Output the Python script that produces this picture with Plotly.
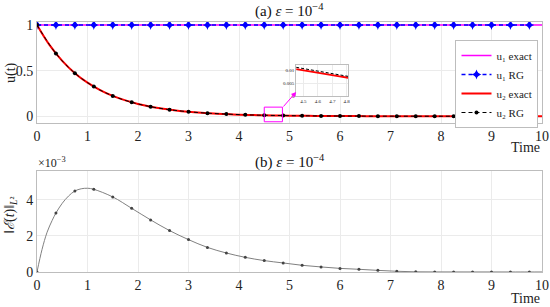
import plotly.graph_objects as go

# ---------------- data ----------------
t_marks = [0, 0.375, 0.75, 1.125, 1.5, 1.875, 2.25, 2.625, 3.0, 3.375, 3.75, 4.125, 4.5,
           4.875, 5.25, 5.625, 6.0, 6.375, 6.75, 7.125, 7.5, 7.875, 8.25, 8.625, 9.0, 9.375, 9.75]
u1_exact_t = [0, 10]
u1_exact = [1, 1]
u1_rg = [1] * 27
t_fine = [0, 0.25, 0.5, 0.75, 1.0, 1.25, 1.5, 1.75, 2.0, 2.25, 2.5, 2.75, 3.0, 3.25, 3.5, 3.75,
          4.0, 4.25, 4.5, 4.75, 5.0, 5.25, 5.5, 5.75, 6.0, 6.25, 6.5, 6.75, 7.0, 7.25, 7.5, 7.75,
          8.0, 8.25, 8.5, 8.75, 9.0, 9.25, 9.5, 9.75, 10.0]
u2_exact = [1, 0.779, 0.607, 0.472, 0.368, 0.287, 0.223, 0.174, 0.135, 0.105, 0.082, 0.064,
            0.050, 0.039, 0.030, 0.024, 0.018, 0.014, 0.011, 0.0087, 0.0067, 0.0052, 0.0041,
            0.0032, 0.0025, 0.0019, 0.0015, 0.0012, 0.0009, 0.0007, 0.00055, 0.0004, 0.0003,
            0.0003, 0.0002, 0.0002, 0.0001, 0.0001, 0.0001, 0.0001, 0.00005]
u2_rg = [1, 0.687, 0.472, 0.325, 0.223, 0.153, 0.105, 0.072, 0.050, 0.034, 0.024, 0.016, 0.011,
         0.0076, 0.0052, 0.0036, 0.0025, 0.0017, 0.0012, 0.0008, 0.00055, 0.0004, 0.0003,
         0.0002, 0.0001, 0.0001, 0.0001]

# inset (zoom of u2 near t = 4.5 .. 4.8)
inset_t = [4.45, 4.55, 4.65, 4.75, 4.81]
inset_u2_exact = [0.0104, 0.0094, 0.0085, 0.0076, 0.0071]
inset_u2_rg = [0.0111, 0.0101, 0.0091, 0.0081, 0.0076]

# error norm (bottom panel)
err_line_t = [0, 0.1, 0.2, 0.3, 0.375, 0.5, 0.625, 0.75, 0.875, 1.0, 1.125, 1.5, 1.875, 2.25,
              2.625, 3.0, 3.375, 3.75, 4.125, 4.5, 4.875, 5.25, 5.625, 6.0, 6.375, 6.75, 7.125,
              7.5, 7.875, 8.25, 8.625, 9.0, 9.375, 9.75, 10.0]
err_line = [0, 1.25e-3, 2.2e-3, 2.85e-3, 3.26e-3, 3.8e-3, 4.2e-3, 4.48e-3, 4.6e-3, 4.63e-3,
            4.57e-3, 4.15e-3, 3.52e-3, 2.88e-3, 2.29e-3, 1.79e-3, 1.36e-3, 1.05e-3, 0.81e-3,
            0.63e-3, 0.50e-3, 0.37e-3, 0.28e-3, 0.20e-3, 0.15e-3, 0.09e-3, 0.04e-3, 0.01e-3,
            0.005e-3, 0.004e-3, 0.003e-3, 0.003e-3, 0.002e-3, 0.002e-3, 0.002e-3]
err_marks = [0, 3.26e-3, 4.48e-3, 4.57e-3, 4.15e-3, 3.52e-3, 2.88e-3, 2.29e-3, 1.79e-3, 1.36e-3,
             1.05e-3, 0.81e-3, 0.63e-3, 0.50e-3, 0.37e-3, 0.28e-3, 0.20e-3, 0.15e-3, 0.09e-3,
             0.04e-3, 0.01e-3, 0.005e-3, 0.004e-3, 0.003e-3, 0.003e-3, 0.002e-3, 0.002e-3]

x_ticks = [0, 1, 2, 3, 4, 5, 6, 7, 8, 9, 10]
top_y_ticks = [0, 0.5, 1]
top_y_text = ["0", "0.5", "1"]
bot_y_ticks = [0, 0.002, 0.004]
bot_y_text = ["0", "2", "4"]
inset_x_ticks = [4.5, 4.6, 4.7, 4.8]
inset_y_ticks = [0, 0.005, 0.01]
inset_y_text = ["0", "0.005", "0.01"]

FONT = "Liberation Serif"
W, H = 550, 307

fig = go.Figure()

# top panel
fig.add_trace(go.Scatter(x=u1_exact_t, y=u1_exact, mode="lines", name="u₁ exact",
                         line=dict(color="#FF00FF", width=1.5), xaxis="x", yaxis="y"))
fig.add_trace(go.Scatter(x=t_marks, y=u1_rg, mode="lines+markers", name="u₁ RG",
                         line=dict(color="#0000FF", width=1.3, dash="4px,3px"),
                         marker=dict(symbol="star-diamond", size=7, color="#0000FF"),
                         xaxis="x", yaxis="y"))
fig.add_trace(go.Scatter(x=t_fine, y=u2_exact, mode="lines", name="u₂ exact",
                         line=dict(color="#FF0000", width=2, shape="spline"), xaxis="x", yaxis="y"))
fig.add_trace(go.Scatter(x=t_marks, y=u2_rg, mode="lines+markers", name="u₂ RG",
                         line=dict(color="#000000", width=1, dash="4px,3px", shape="spline"),
                         marker=dict(symbol="circle", size=4, color="#000000"),
                         xaxis="x", yaxis="y"))

# inset
fig.add_trace(go.Scatter(x=inset_t, y=inset_u2_exact, mode="lines", showlegend=False,
                         line=dict(color="#FF0000", width=2), xaxis="x3", yaxis="y3"))
fig.add_trace(go.Scatter(x=inset_t, y=inset_u2_rg, mode="lines", showlegend=False,
                         line=dict(color="#000000", width=1, dash="3px,2px"), xaxis="x3", yaxis="y3"))

# bottom panel
fig.add_trace(go.Scatter(x=err_line_t, y=err_line, mode="lines", showlegend=False,
                         line=dict(color="#808080", width=1, shape="spline"), xaxis="x2", yaxis="y2"))
fig.add_trace(go.Scatter(x=t_marks, y=err_marks, mode="markers", showlegend=False,
                         marker=dict(symbol="circle", size=3, color="#444444"),
                         xaxis="x2", yaxis="y2"))

px_l, px_r = 37, 541.7
def px(xp):
    return (xp - px_l) / (px_r - px_l)
def py(yp):
    return 1 - yp / H

axis_common = dict(showline=True, linecolor="#BDBDBD", linewidth=1, mirror=True,
                   showgrid=True, gridcolor="#EBEBEB", gridwidth=1, zeroline=False,
                   ticks="", automargin=False, tickfont=dict(family=FONT, size=14, color="#222"))

fig.update_layout(
    width=W, height=H,
    margin=dict(l=px_l, r=W - px_r, t=0, b=0, autoexpand=False),
    paper_bgcolor="white", plot_bgcolor="white",
    font=dict(family=FONT, color="#222"),
    xaxis=dict(domain=[0, 1], range=[0, 10], tickvals=x_ticks, anchor="y", **axis_common),
    yaxis=dict(domain=[py(123.3), py(21.7)], range=[-0.077, 1.036], tickvals=top_y_ticks,
               ticktext=top_y_text, anchor="x", **axis_common),
    xaxis2=dict(domain=[0, 1], range=[0, 10], tickvals=x_ticks, anchor="y2", **axis_common),
    yaxis2=dict(domain=[py(272), py(170.7)], range=[0, 0.0056], tickvals=bot_y_ticks,
                ticktext=bot_y_text, anchor="x2", **axis_common),
    xaxis3=dict(domain=[px(296), px(348)], range=[4.45, 4.81], tickvals=inset_x_ticks,
                anchor="y3", showline=True, linecolor="#BDBDBD", mirror=True, showgrid=True,
                gridcolor="#EBEBEB", zeroline=False, ticks="", automargin=False,
                tickfont=dict(family=FONT, size=5, color="#222")),
    yaxis3=dict(domain=[py(96), py(65)], range=[0, 0.012], tickvals=inset_y_ticks,
                ticktext=inset_y_text, anchor="x3", showline=True, linecolor="#BDBDBD",
                mirror=True, showgrid=True, gridcolor="#EBEBEB", zeroline=False, ticks="",
                automargin=False, tickfont=dict(family=FONT, size=5, color="#222")),
    legend=dict(x=1 - 3.5 / (px_r - px_l), xanchor="right", y=py(40), yanchor="top",
                bgcolor="white", bordercolor="#BDBDBD", borderwidth=1,
                font=dict(family=FONT, size=11, color="#222"), itemwidth=30,
                tracegroupgap=0),
    showlegend=True,
)

# magenta box and arrow
fig.add_shape(type="rect", xref="x", yref="y", x0=4.5, x1=4.86, y0=-0.06, y1=0.1,
              line=dict(color="#FF00FF", width=1))
fig.add_annotation(xref="paper", yref="paper", x=px(296), y=py(92), ax=-14, ay=16,
                   text="", showarrow=True, arrowhead=2, arrowsize=1, arrowwidth=1,
                   arrowcolor="#FF00FF")

# titles and labels
fig.add_annotation(xref="paper", yref="paper", x=0.5, y=py(10), xanchor="center", yanchor="middle",
                   text="(a) <i>ε</i> = 10<sup>−4</sup>", showarrow=False,
                   font=dict(family=FONT, size=15, color="#111"))
fig.add_annotation(xref="paper", yref="paper", x=0.5, y=py(161), xanchor="center", yanchor="middle",
                   text="(b) <i>ε</i> = 10<sup>−4</sup>", showarrow=False,
                   font=dict(family=FONT, size=15, color="#111"))
fig.add_annotation(xref="paper", yref="paper", x=1, y=py(147), xanchor="right", yanchor="middle",
                   text="Time", showarrow=False, font=dict(family=FONT, size=14, color="#222"))
fig.add_annotation(xref="paper", yref="paper", x=1, y=py(298), xanchor="right", yanchor="middle",
                   text="Time", showarrow=False, font=dict(family=FONT, size=14, color="#222"))
fig.add_annotation(xref="paper", yref="paper", x=px(11), y=py(72), xanchor="center", yanchor="middle",
                   text="u(t)", textangle=-90, showarrow=False,
                   font=dict(family=FONT, size=14, color="#222"))
fig.add_annotation(xref="paper", yref="paper", x=px(10), y=py(215), xanchor="center", yanchor="middle",
                   text="‖<i>ℰ</i>(<i>t</i>)‖<sub><i>L</i>²</sub>", textangle=-90, showarrow=False,
                   font=dict(family=FONT, size=14, color="#222"))
fig.add_annotation(xref="paper", yref="paper", x=px(36), y=py(162), xanchor="left", yanchor="middle",
                   text="×10<sup>−3</sup>", showarrow=False,
                   font=dict(family=FONT, size=12, color="#222"))

fig.write_html("out.html", config={"displayModeBar": False},
               post_script="document.body.style.margin='0';")
